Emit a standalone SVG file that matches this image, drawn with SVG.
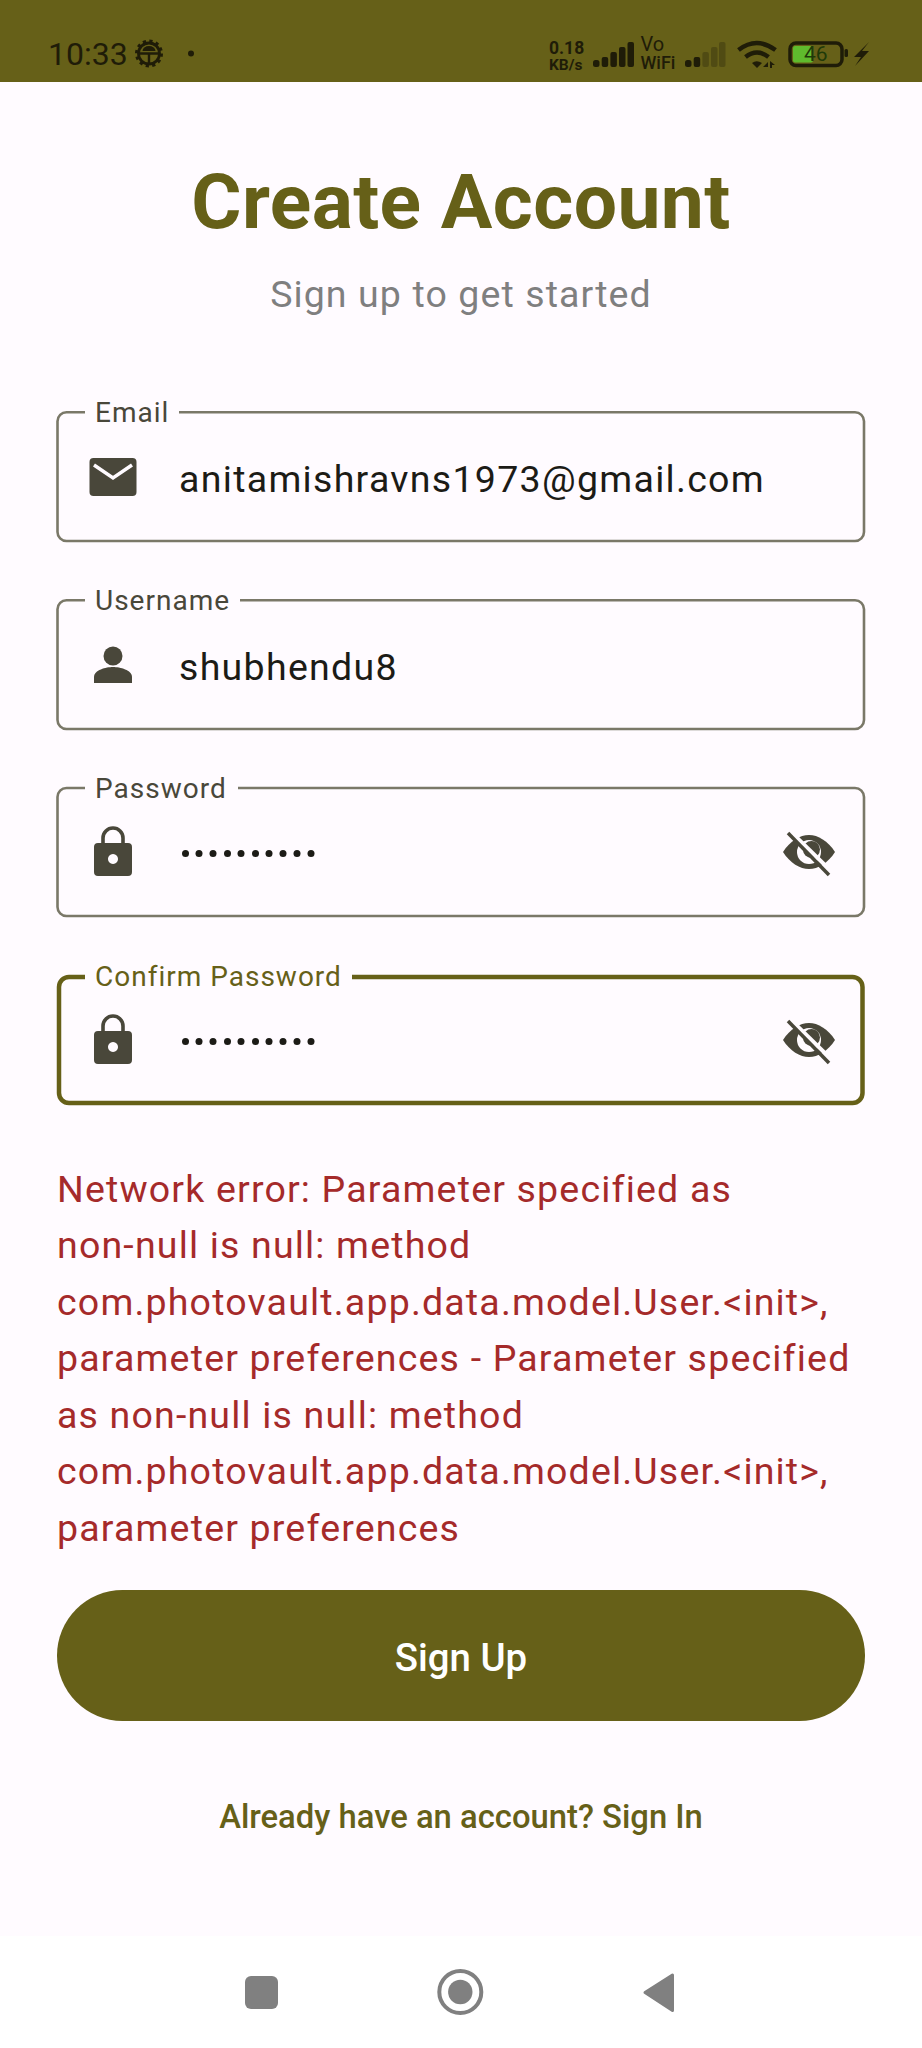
<svg xmlns="http://www.w3.org/2000/svg" width="922" height="2048" viewBox="0 0 922 2048">
<style>
text{font-family:Roboto,"Liberation Sans",sans-serif}
.lab{font-size:28px;fill:#49473a;letter-spacing:1px}
.val{font-size:37.500px;fill:#1c1b16;letter-spacing:1.300px}
.err{font-size:37.500px;fill:#a52a2a;letter-spacing:1.180px}
.box{fill:none;stroke:#7a7868;stroke-width:2.600}
.ic{fill:#49473a}
.nav{fill:#808080}
.st{fill:#1f1c08}
</style>
<rect width="922" height="2048" fill="#fffbff"/>
<g id="status-bar">
<rect width="922" height="82" fill="#666018"/>
<text x="48" y="65" font-size="32" class="st">10:33</text>
<g transform="translate(149,53.500)" fill="none" stroke="#1f1c08">
<circle r="10.500" stroke-width="2.800"/>
<circle r="12.500" stroke-width="3" stroke-dasharray="3.200 3.340"/>
<path d="M-10 0H10M0 0V10" stroke-width="2.400"/>
<path d="M-6.500 -2.500a6.500 5 0 0 1 13 0z" fill="#1f1c08" stroke="none"/>
</g>
<circle cx="191" cy="53.500" r="3" class="st"/>
<text x="549" y="54" font-size="17.500" font-weight="700" class="st">0.18</text>
<text x="549" y="70" font-size="15.500" font-weight="700" class="st">KB/s</text>
<g class="st">
<rect x="593" y="60" width="6.500" height="7" rx="2.500"/><rect x="601.700" y="57" width="6.500" height="10" rx="2"/><rect x="610.400" y="52" width="6.500" height="15" rx="2"/><rect x="619" y="47" width="6.500" height="20" rx="2"/><rect x="627.500" y="42" width="6.500" height="25" rx="2"/>
</g>
<text x="640.500" y="51" font-size="20" class="st">Vo</text>
<text x="640.500" y="69" font-size="18" class="st" font-weight="500">WiFi</text>
<g class="st">
<rect x="685" y="60" width="6.500" height="7" rx="2.500"/><rect x="693.700" y="57" width="6.500" height="10" rx="2"/>
<g opacity=".3"><rect x="702.400" y="52" width="6.500" height="15" rx="2"/><rect x="711" y="47" width="6.500" height="20" rx="2"/><rect x="719" y="42" width="6.500" height="25" rx="2"/></g>
</g>
<g fill="none" stroke="#1f1c08" stroke-width="4.500">
<path d="M738.500 50q18-14 37 0"/><path d="M745.500 57q11.500-9 23 0"/>
</g>
<path d="M752 63q4.500-3.500 10 0l-5 5z" class="st"/>
<path d="M763 67l5-5v5zM770 61l5 4h-3v3h-2z" class="st"/>
<rect x="790" y="43" width="52" height="22.500" rx="6" fill="none" stroke="#1f1c08" stroke-width="3.500"/>
<rect x="793" y="46" width="20" height="16.500" rx="2" fill="#5fbb2d"/>
<text x="804" y="61" font-size="21" fill="#1f3a08">46</text>
<rect x="844.500" y="49" width="3.500" height="8" rx="1.500" class="st"/>
<path d="M869 42l-15 15h7l-6 9 14-15h-7z" class="st"/>
</g>
<g id="title">
<text x="461" y="228" font-size="76.800" font-weight="700" fill="#666018" text-anchor="middle" letter-spacing="0.400">Create Account</text>
<text x="461" y="307" font-size="37.500" fill="#7f7f7f" text-anchor="middle" letter-spacing="1.100">Sign up to get started</text>
</g>
<g id="email-field">
<path class="box" d="M85 412.300H66.500a9 9 0 0 0-9 9V532a9 9 0 0 0 9 9H855a9 9 0 0 0 9-9V421.300a9 9 0 0 0-9-9H179"/>
<text class="lab" x="95" y="422">Email</text>
<path class="ic" d="M93.500 458h39a4 4 0 0 1 4 4v30a4 4 0 0 1-4 4h-39a4 4 0 0 1-4-4V462a4 4 0 0 1 4-4z"/>
<path d="M94 465l19 13 19-13" fill="none" stroke="#fffbff" stroke-width="3.500"/>
<text class="val" x="179" y="492">anitamishravns1973@gmail.com</text>
</g>
<g id="username-field">
<path class="box" d="M85 600.300H66.500a9 9 0 0 0-9 9V720a9 9 0 0 0 9 9H855a9 9 0 0 0 9-9V609.300a9 9 0 0 0-9-9H240"/>
<text class="lab" x="95" y="610">Username</text>
<circle class="ic" cx="113" cy="656" r="9.500"/>
<path class="ic" d="M94 683v-6c0-7 12-10 19-10s19 3 19 10v6z"/>
<text class="val" x="179" y="679.500">shubhendu8</text>
</g>
<g id="password-field">
<path class="box" d="M85 788H66.500a9 9 0 0 0-9 9V907a9 9 0 0 0 9 9H855a9 9 0 0 0 9-9V797a9 9 0 0 0-9-9H238"/>
<text class="lab" x="95" y="798">Password</text>
<path class="ic" fill-rule="evenodd" d="M98 843h30a4 4 0 0 1 4 4v25a4 4 0 0 1-4 4H98a4 4 0 0 1-4-4V847a4 4 0 0 1 4-4zM113 854a5 5 0 1 0 .01 0z"/>
<path d="M103 843v-5a10 10 0 0 1 20 0v5" fill="none" stroke="#49473a" stroke-width="3.600"/>
<g fill="#1c1b16"><circle cx="185.500" cy="853.500" r="3.500"/><circle cx="199" cy="853.500" r="3.500"/><circle cx="213" cy="853.500" r="3.500"/><circle cx="227.500" cy="853.500" r="3.500"/><circle cx="241" cy="853.500" r="3.500"/><circle cx="255.500" cy="853.500" r="3.500"/><circle cx="269" cy="853.500" r="3.500"/><circle cx="283" cy="853.500" r="3.500"/><circle cx="297" cy="853.500" r="3.500"/><circle cx="311" cy="853.500" r="3.500"/></g>
<g transform="translate(809,852)">
<path class="ic" d="M-26 0C-19-11-9-17 0-17S19-11 26 0C19 11 9 17 0 17S-19 11-26 0z"/>
<circle r="12" fill="#fffbff"/>
<circle cx="2.500" cy="-2.500" r="8.500" class="ic"/>
<path d="M-18-20L24 21" stroke="#fffbff" stroke-width="4"/>
<path d="M-21-19L20 23" stroke="#49473a" stroke-width="3.500"/>
</g>
</g>
<g id="confirm-password-field">
<path d="M85 977H69a10 10 0 0 0-10 10V1093a10 10 0 0 0 10 10H852.500a10 10 0 0 0 10-10V987a10 10 0 0 0-10-10H352" fill="none" stroke="#666018" stroke-width="4.500"/>
<text class="lab" x="95" y="986" style="fill:#666018">Confirm Password</text>
<path class="ic" fill-rule="evenodd" d="M98 1031h30a4 4 0 0 1 4 4v25a4 4 0 0 1-4 4H98a4 4 0 0 1-4-4V1035a4 4 0 0 1 4-4zM113 1042a5 5 0 1 0 .01 0z"/>
<path d="M103 1031v-5a10 10 0 0 1 20 0v5" fill="none" stroke="#49473a" stroke-width="3.600"/>
<g fill="#1c1b16"><circle cx="185.500" cy="1041.500" r="3.500"/><circle cx="199" cy="1041.500" r="3.500"/><circle cx="213" cy="1041.500" r="3.500"/><circle cx="227.500" cy="1041.500" r="3.500"/><circle cx="241" cy="1041.500" r="3.500"/><circle cx="255.500" cy="1041.500" r="3.500"/><circle cx="269" cy="1041.500" r="3.500"/><circle cx="283" cy="1041.500" r="3.500"/><circle cx="297" cy="1041.500" r="3.500"/><circle cx="311" cy="1041.500" r="3.500"/></g>
<g transform="translate(809,1040)">
<path class="ic" d="M-26 0C-19-11-9-17 0-17S19-11 26 0C19 11 9 17 0 17S-19 11-26 0z"/>
<circle r="12" fill="#fffbff"/>
<circle cx="2.500" cy="-2.500" r="8.500" class="ic"/>
<path d="M-18-20L24 21" stroke="#fffbff" stroke-width="4"/>
<path d="M-21-19L20 23" stroke="#49473a" stroke-width="3.500"/>
</g>
</g>
<g id="error-message">
<text class="err" x="57" y="1201.500">Network error: Parameter specified as</text>
<text class="err" x="57" y="1258">non-null is null: method</text>
<text class="err" x="57" y="1314.500">com.photovault.app.data.model.User.&lt;init&gt;,</text>
<text class="err" x="57" y="1371">parameter preferences - Parameter specified</text>
<text class="err" x="57" y="1427.500">as non-null is null: method</text>
<text class="err" x="57" y="1484">com.photovault.app.data.model.User.&lt;init&gt;,</text>
<text class="err" x="57" y="1540.500">parameter preferences</text>
</g>
<g id="sign-up-button">
<rect x="57" y="1590" width="808" height="131" rx="65.500" fill="#666018"/>
<text x="461" y="1671" font-size="38.400" font-weight="500" fill="#fff" text-anchor="middle">Sign Up</text>
</g>
<g id="sign-in-link">
<text x="461" y="1828" font-size="32.800" font-weight="500" fill="#666018" text-anchor="middle">Already have an account? Sign In</text>
</g>
<g id="nav-bar">
<rect y="1936" width="922" height="112" fill="#ffffff"/>
<rect x="245" y="1976" width="33" height="33" rx="6" class="nav"/>
<circle cx="460.300" cy="1992" r="21" fill="none" stroke="#808080" stroke-width="4"/>
<circle cx="460.300" cy="1992" r="12.200" class="nav"/>
<path class="nav" d="M672.500 1975V2010.500L645 1992.500z" stroke="#808080" stroke-width="3" stroke-linejoin="round"/>
</g>
</svg>
